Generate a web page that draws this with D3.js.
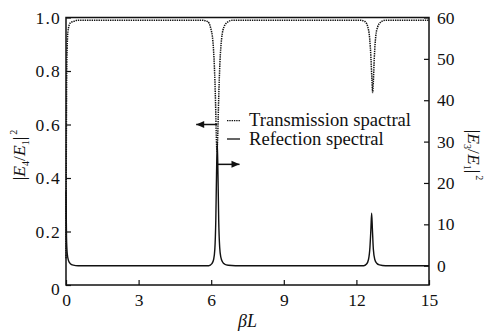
<!DOCTYPE html>
<html>
<head>
<meta charset="utf-8">
<script src="https://cdn.jsdelivr.net/npm/d3@7/dist/d3.min.js"></script>
<style>
  html, body { margin: 0; padding: 0; background: #fff; }
  svg { display: block; }
  text { font-family: "Liberation Serif", "Times New Roman", serif; fill: #111; }
</style>
</head>
<body>
<svg id="chart" width="486" height="331"></svg>
<script>
// Transmission |E4/E1|^2 (left axis) versus beta*L
const transBL  = [0, 0.015, 0.03, 0.06, 0.1, 0.18, 0.3, 0.5, 2.0, 4.0, 5.6, 5.85, 5.98, 6.07, 6.13, 6.18, 6.21, 6.24, 6.27, 6.31, 6.36, 6.43, 6.53, 6.68, 6.9, 8.0, 10.0, 12.15, 12.35, 12.47, 12.55, 12.6, 12.64, 12.67, 12.7, 12.74, 12.8, 12.88, 13.0, 13.2, 14.0, 15.0];
const transVal = [0.10, 0.55, 0.80, 0.92, 0.96, 0.98, 0.985, 0.99, 0.99, 0.99, 0.99, 0.985, 0.96, 0.91, 0.82, 0.68, 0.56, 0.50, 0.56, 0.70, 0.83, 0.92, 0.965, 0.983, 0.99, 0.99, 0.99, 0.99, 0.985, 0.965, 0.92, 0.85, 0.77, 0.72, 0.76, 0.85, 0.93, 0.965, 0.982, 0.99, 0.99, 0.99];

// Reflection |E3/E1|^2 (right axis) versus beta*L
const reflBL  = [0, 0.02, 0.05, 0.1, 0.18, 0.3, 0.5, 3.0, 5.9, 6.03, 6.1, 6.15, 6.19, 6.22, 6.25, 6.28, 6.31, 6.35, 6.4, 6.47, 6.56, 6.7, 7.0, 10.0, 12.3, 12.42, 12.5, 12.56, 12.6, 12.63, 12.66, 12.7, 12.76, 12.84, 12.95, 13.2, 15.0];
const reflVal = [18, 7, 3, 1.3, 0.5, 0.15, 0, 0, 0, 0.5, 1.5, 4, 11, 22, 30, 22, 11, 4.5, 2.0, 0.9, 0.35, 0.1, 0, 0, 0, 0.4, 1.5, 4.5, 9, 12.7, 9, 4, 1.5, 0.6, 0.2, 0, 0];

const xTicks = [0, 3, 6, 9, 12, 15];
const leftTicks = [0, 0.2, 0.4, 0.6, 0.8, 1.0];
const rightTicks = [0, 10, 20, 30, 40, 50, 60];
const legendLabels = ["Transmission spactral", "Refection spectral"];

const svg = d3.select("#chart");
const L = 66, R = 429, T = 17.5, B = 285;

const x = d3.scaleLinear().domain([0, 15]).range([L, R]);
const yL = d3.scaleLinear().domain([0, 1]).range([B, T]);
const yR = d3.scaleLinear().domain([0, 60]).range([265.7, T]);

const fs = 17.5;

// Bottom axis (ticks point inward)
const gx = svg.append("g").attr("transform", `translate(0,${B})`)
  .call(d3.axisBottom(x).tickValues(xTicks).tickFormat(d3.format("d"))
    .tickSizeInner(-5).tickSizeOuter(0).tickPadding(9));
gx.select(".domain").remove();
gx.selectAll(".tick line").attr("stroke", "#111").attr("stroke-width", 1.2);
gx.selectAll(".tick text").attr("font-size", fs).attr("font-family", "Liberation Serif").attr("fill", "#111");

// Left axis
const gl = svg.append("g").attr("transform", `translate(${L},0)`)
  .call(d3.axisLeft(yL).tickValues(leftTicks)
    .tickFormat(d => d === 0 ? "0" : d3.format(".1f")(d))
    .tickSizeInner(-5).tickSizeOuter(0).tickPadding(5));
gl.select(".domain").remove();
gl.selectAll(".tick line").attr("stroke", "#111").attr("stroke-width", 1.2);
gl.selectAll(".tick text").attr("font-size", fs).attr("font-family", "Liberation Serif").attr("fill", "#111")
  .attr("letter-spacing", 1.2);
gl.selectAll(".tick").filter(d => d === 0).select("text").attr("dy", "0.55em");

// Right axis
const gr = svg.append("g").attr("transform", `translate(${R},0)`)
  .call(d3.axisRight(yR).tickValues(rightTicks).tickFormat(d3.format("d"))
    .tickSizeInner(-5).tickSizeOuter(0).tickPadding(8));
gr.select(".domain").remove();
gr.selectAll(".tick line").attr("stroke", "#111").attr("stroke-width", 1.2);
gr.selectAll(".tick text").attr("font-size", fs).attr("font-family", "Liberation Serif").attr("fill", "#111");

// Frame
svg.append("rect").attr("x", L).attr("y", T).attr("width", R - L).attr("height", B - T)
  .attr("fill", "none").attr("stroke", "#111").attr("stroke-width", 1.5);

// Curves
const transLine = d3.line().x((d, i) => x(transBL[i])).y(d => yL(d)).curve(d3.curveMonotoneX);
const reflLine = d3.line().x((d, i) => x(reflBL[i])).y(d => yR(d)).curve(d3.curveMonotoneX);

svg.append("path").attr("d", transLine(transVal))
  .attr("fill", "none").attr("stroke", "#111").attr("stroke-width", 1.5)
  .attr("stroke-dasharray", "1.4,0.9");
svg.append("path").attr("d", reflLine(reflVal))
  .attr("fill", "none").attr("stroke", "#111").attr("stroke-width", 1.4);

// Arrows pointing to each curve's axis
function arrow(x1, y1, x2, y2) {
  svg.append("line").attr("x1", x1).attr("y1", y1).attr("x2", x2).attr("y2", y2)
    .attr("stroke", "#111").attr("stroke-width", 1.5);
  const dir = Math.sign(x2 - x1);
  svg.append("path")
    .attr("d", `M${x2},${y2} L${x2 - dir * 8},${y2 - 3.5} L${x2 - dir * 8},${y2 + 3.5} Z`)
    .attr("fill", "#111");
}
arrow(x(6.25), yL(0.6), x(5.38), yL(0.6));
arrow(x(6.25), yR(24.5), x(7.17), yR(24.5));

// Legend
svg.append("line").attr("x1", 227).attr("x2", 240).attr("y1", 120.7).attr("y2", 120.7)
  .attr("stroke", "#111").attr("stroke-width", 1.3).attr("stroke-dasharray", "1.4,0.9");
svg.append("line").attr("x1", 227).attr("x2", 240).attr("y1", 139).attr("y2", 139)
  .attr("stroke", "#111").attr("stroke-width", 1.3);
svg.append("text").attr("x", 249).attr("y", 126).attr("font-size", 18.6).text(legendLabels[0]);
svg.append("text").attr("x", 249).attr("y", 145).attr("font-size", 18.6).text(legendLabels[1]);

// Axis titles
function ratioLabel(g, num) {
  const t = g.append("text").attr("font-size", 17.5).attr("text-anchor", "middle");
  t.append("tspan").text("|");
  t.append("tspan").attr("font-style", "italic").text("E");
  t.append("tspan").attr("font-size", 10).attr("dy", 4).text(num);
  t.append("tspan").attr("dy", -4).text("/");
  t.append("tspan").attr("font-style", "italic").text("E");
  t.append("tspan").attr("font-size", 10).attr("dy", 4).text("1");
  t.append("tspan").attr("dy", -4).text("|");
  t.append("tspan").attr("font-size", 10).attr("dy", -8).attr("dx", 2).text("2");
  return t;
}
ratioLabel(svg.append("g").attr("transform", "translate(25,155) rotate(-90)"), "4");
ratioLabel(svg.append("g").attr("transform", "translate(468,155) rotate(90)"), "3");

const xl = svg.append("text").attr("x", (L + R) / 2).attr("y", 327)
  .attr("text-anchor", "middle").attr("font-size", 18).attr("font-style", "italic");
xl.text("βL");
</script>
</body>
</html>
